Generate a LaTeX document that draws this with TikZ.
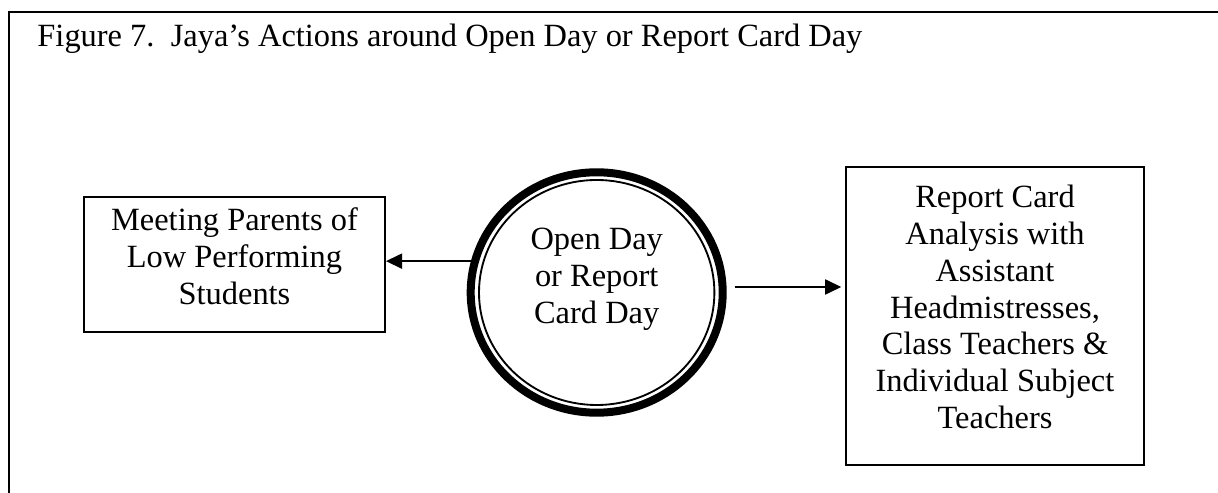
\documentclass[tikz,border=0pt]{standalone}
\usepackage{fontspec}
\setmainfont{Liberation Serif}
\usetikzlibrary{arrows.meta,shapes.geometric,calc}
\newcommand\pxu{0.4317pt}
\begin{document}
\begin{tikzpicture}[x=0.4317pt,y=-0.4317pt,
  frameline/.style={line width=0.9pt,line join=miter},
  boxnode/.style={draw,rectangle,line width=0.8pt,inner sep=0pt},
  boxtext/.style={align=center,inner sep=0pt,font=\fontsize{14}{15.9}\selectfont},
  flow/.style={line width=0.85pt,-{Triangle[length=7pt,width=6.5pt]}}]
\useasboundingbox (0,0) rectangle (1218,493);

% open frame along the top and left
\draw[frameline] (9,493) -- (9,12) -- (1218,12);

% caption
\node[anchor=base west,inner sep=0pt,font=\fontsize{14}{16}\selectfont] (title) at (37,47)
  {Figure 7.\ \ Jaya’s Actions around Open Day or Report Card Day};

% left box
\node[boxnode,minimum width=301*\pxu,minimum height=135*\pxu] (lbox) at (234.5,264.5) {};
\node[boxtext] (lboxtxt) at (234.5,256) {Meeting Parents of\\Low Performing\\Students};

% central event: heavy ring with a thin inner ring
\node[draw,ellipse,inner sep=0pt,line width=8*\pxu,
      minimum width=252*\pxu,minimum height=240.4*\pxu] (ev) at (596.7,292.5) {};
\node[draw,ellipse,inner sep=0pt,line width=0.8pt,
      minimum width=235.4*\pxu,minimum height=225*\pxu] (evin) at (596.7,292.5) {};
\node[boxtext] (evtxt) at (596.7,279) {Open Day\\or Report\\Card Day};

% right box
\node[boxnode,minimum width=298.6*\pxu,minimum height=297.7*\pxu] (rbox) at (995,316.2) {};
\node[boxtext] (rboxtxt) at (995,307) {Report Card\\Analysis with\\Assistant\\Headmistresses,\\Class Teachers \&\\Individual Subject\\Teachers};

% connectors
\draw[flow] (ev.166) -- (ev.166 -| lbox.east);
\coordinate (rs) at ($(ev.east)+(8,-5.5)$);
\draw[flow,shorten >=1.5pt] (rs) -- (rs -| rbox.west);
\end{tikzpicture}
\end{document}
